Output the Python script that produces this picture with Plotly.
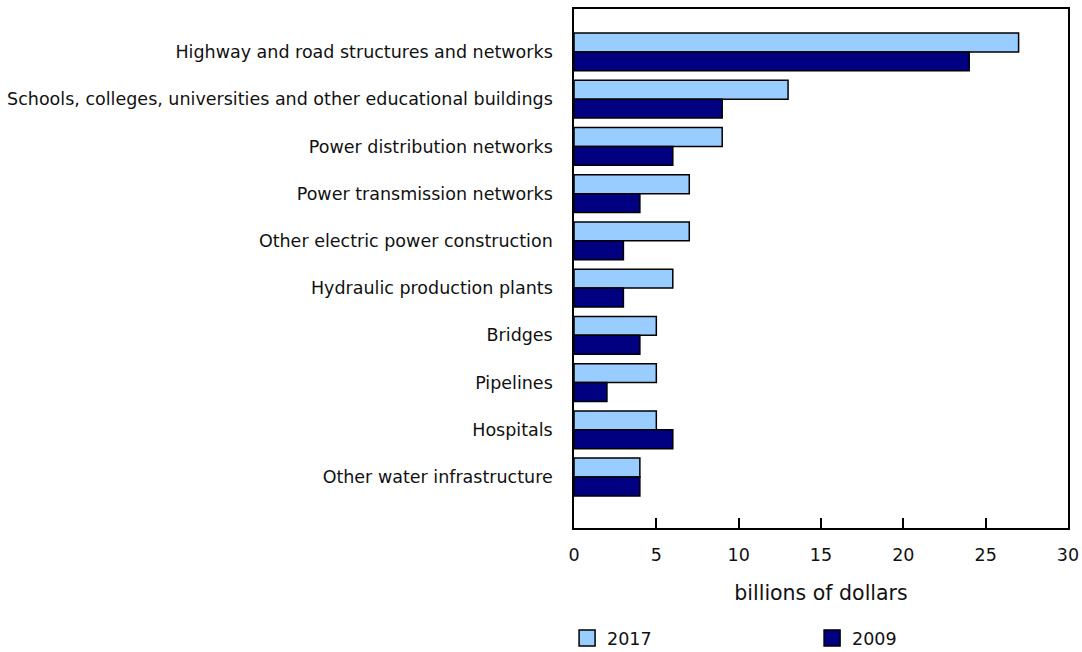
import plotly.graph_objects as go

categories = [
    "Highway and road structures and networks",
    "Schools, colleges, universities and other educational buildings",
    "Power distribution networks",
    "Power transmission networks",
    "Other electric power construction",
    "Hydraulic production plants",
    "Bridges",
    "Pipelines",
    "Hospitals",
    "Other water infrastructure",
]
values_2017 = [27, 13, 9, 7, 7, 6, 5, 5, 5, 4]
values_2009 = [24, 9, 6, 4, 3, 3, 4, 2, 6, 4]
x_ticks = [0, 5, 10, 15, 20, 25, 30]
series_names = ["2017", "2009"]
series_colors = ["#99CCFF", "#000080"]

FONT = "DejaVu Sans"
TXT = "#111111"

fig = go.Figure()
for name, vals, col in zip(series_names, [values_2017, values_2009], series_colors):
    fig.add_trace(go.Bar(
        y=categories, x=vals, orientation="h", name=name, showlegend=False,
        marker=dict(color=col, line=dict(color="black", width=1.5)),
    ))
# legend entries (square swatches)
for name, col in zip(series_names, series_colors):
    fig.add_trace(go.Scatter(
        x=[None], y=[None], mode="markers", name=name,
        marker=dict(symbol="square", size=16, color=col,
                    line=dict(color="black", width=1.5)),
    ))

fig.update_layout(
    width=1082, height=652,
    margin=dict(l=574, r=14, t=9, b=124, autoexpand=False),
    paper_bgcolor="white", plot_bgcolor="white",
    barmode="group", bargap=0.2, bargroupgap=0,
    font=dict(family=FONT, size=17, color=TXT),
    showlegend=True,
    legend=dict(
        orientation="h", x=-0.014, xanchor="left", y=-0.212, yanchor="middle",
        entrywidth=200, entrywidthmode="pixels", itemwidth=30,
        font=dict(family=FONT, size=17.5, color=TXT),
        itemsizing="trace",
    ),
    xaxis=dict(
        range=[0, 30], tickvals=x_ticks, ticks="inside", ticklen=10,
        tickcolor="black", tickwidth=1.5,
        showgrid=False, zeroline=False,
        showline=True, linecolor="black", linewidth=1.5, mirror=True,
        ticklabelstandoff=10,
        title=dict(text="billions of dollars", standoff=22,
                   font=dict(family=FONT, size=20.5, color=TXT)),
        tickfont=dict(family=FONT, size=17.5, color=TXT),
    ),
    yaxis=dict(
        type="category", range=[10.08, -0.91],
        showgrid=False, zeroline=False, ticks="",
        showline=True, linecolor="black", linewidth=1.5, mirror=True,
        ticklabelstandoff=16,
        tickfont=dict(family=FONT, size=17.5, color=TXT),
    ),
)

fig.write_html(
    "out.html",
    config={"displayModeBar": False},
    post_script="document.body.style.margin='0';document.body.style.overflow='hidden';",
)
